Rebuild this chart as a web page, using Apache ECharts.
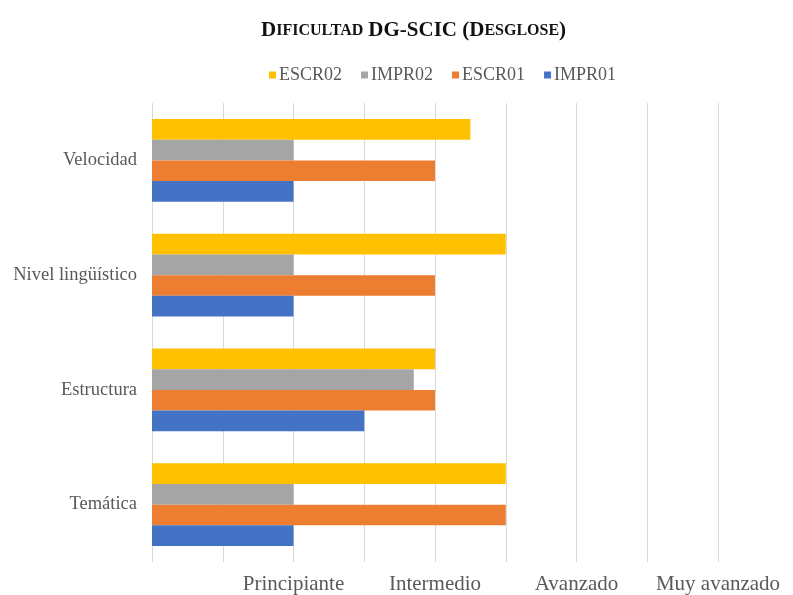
<!DOCTYPE html>
<html>
<head>
<meta charset="utf-8">
<script src="https://cdn.jsdelivr.net/npm/echarts@6/dist/echarts.min.js"></script>
<style>
  html, body { margin: 0; padding: 0; background: #ffffff; }
  #chart { width: 793px; height: 595px; }
</style>
</head>
<body>
<div id="chart"></div>
<script>
// Categories, bottom to top on the vertical axis
const categories = ['Temática', 'Estructura', 'Nivel lingüístico', 'Velocidad'];

// Level scores per category (same order as categories)
const escr02 = [5, 4, 5, 4.5];
const impr02 = [2, 3.7, 2, 2];
const escr01 = [5, 4, 4, 4];
const impr01 = [2, 3, 2, 2];

// Labels for the value axis ticks 0..8
const levelLabels = ['', '', 'Principiante', '', 'Intermedio', '', 'Avanzado', '', 'Muy avanzado'];

const legendOrder = ['ESCR02', 'IMPR02', 'ESCR01', 'IMPR01'];

const serif = '"Liberation Serif", "DejaVu Serif", serif';

const chart = echarts.init(document.getElementById('chart'), null, { renderer: 'canvas' });

function bar(name, data, color) {
  return {
    name: name,
    type: 'bar',
    data: data,
    barGap: '0%',
    barCategoryGap: '28%',
    itemStyle: { color: color },
    emphasis: { disabled: true }
  };
}

chart.setOption({
  animation: false,
  backgroundColor: '#ffffff',
  title: {
    text: '{b|D}{s|IFICULTAD} {b|DG-SCIC (D}{s|ESGLOSE}{b|)}',
    left: 256,
    top: 15,
    textStyle: {
      rich: {
        b: { fontFamily: serif, fontWeight: 'bold', fontSize: 21, color: '#111111' },
        s: { fontFamily: serif, fontWeight: 'bold', fontSize: 16, color: '#111111' }
      }
    }
  },
  legend: {
    data: legendOrder,
    top: 61,
    left: 264,
    itemWidth: 7,
    itemHeight: 7,
    itemGap: 19,
    icon: 'rect',
    textStyle: { fontFamily: serif, fontSize: 18, color: '#595959', padding: [0, 0, 0, -2] }
  },
  grid: {
    left: 152,
    right: 75,
    top: 103,
    bottom: 33,
    containLabel: false
  },
  xAxis: {
    type: 'value',
    min: 0,
    max: 8,
    interval: 1,
    axisLine: { show: false },
    axisTick: { show: false },
    splitLine: { show: true, lineStyle: { color: '#d9d9d9', width: 1 } },
    axisLabel: {
      fontFamily: serif,
      fontSize: 21,
      color: '#595959',
      margin: 12,
      formatter: function (v) { return levelLabels[Math.round(v)] || ''; }
    }
  },
  yAxis: {
    type: 'category',
    data: categories,
    axisLine: { show: false },
    axisTick: { show: false },
    axisLabel: {
      fontFamily: serif,
      fontSize: 18.5,
      color: '#595959',
      margin: 15
    }
  },
  // first series in the list sits at the top of each category group
  series: [
    bar('ESCR02', escr02, '#FFC000'),
    bar('IMPR02', impr02, '#A5A5A5'),
    bar('ESCR01', escr01, '#ED7D31'),
    bar('IMPR01', impr01, '#4472C4')
  ]
});
</script>
</body>
</html>
